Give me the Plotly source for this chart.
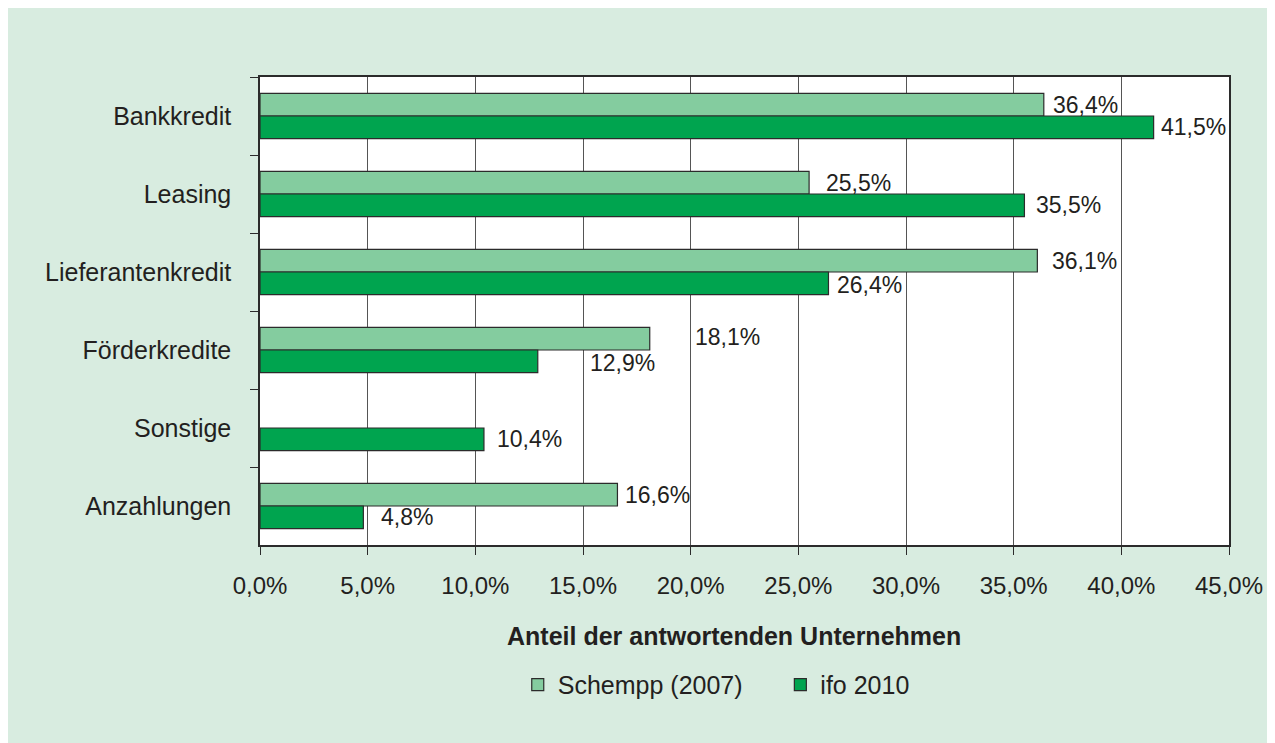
import plotly.graph_objects as go

categories = ["Bankkredit", "Leasing", "Lieferantenkredit", "Förderkredite", "Sonstige", "Anzahlungen"]
schempp_2007 = [36.4, 25.5, 36.1, 18.1, None, 16.6]
ifo_2010 = [41.5, 35.5, 26.4, 12.9, 10.4, 4.8]
series_names = ["Schempp (2007)", "ifo 2010"]
x_ticks = [0, 5, 10, 15, 20, 25, 30, 35, 40, 45]
x_tick_labels = ["0,0%", "5,0%", "10,0%", "15,0%", "20,0%", "25,0%", "30,0%", "35,0%", "40,0%", "45,0%"]

# label placement styling (pixel offsets, as in the original layout)
schempp_label_dx = [7, 15, 13, 43, 0, 6]
schempp_label_dy = [0, 0, 0, 2, 0, 0]
ifo_label_dx = [5, 10, 7, 50, 11, 16]
ifo_label_dy = [0, 0, -2, -2, 0, 0]

LIGHT = "#84cc9f"
DARK = "#00a44f"
EDGE = "#2b2b2b"
TXT = "#231f20"
BG = "#d8ece0"
FONT = "Liberation Sans, Arial, sans-serif"

fig = go.Figure()
fig.add_trace(go.Bar(y=categories, x=schempp_2007, orientation="h", name=series_names[0],
                     legend="legend",
                     marker=dict(color=LIGHT, line=dict(color=EDGE, width=1.2))))
fig.add_trace(go.Bar(y=categories, x=ifo_2010, orientation="h", name=series_names[1],
                     legend="legend2",
                     marker=dict(color=DARK, line=dict(color=EDGE, width=1.2))))

def fmt(v):
    return f"{v:.1f}".replace(".", ",") + "%"

BAR_HALF = 11
annotations = []
for i, c in enumerate(categories):
    v = schempp_2007[i]
    if v is not None:
        annotations.append(dict(x=v, y=c, xref="x", yref="y", text=fmt(v), showarrow=False,
                                xanchor="left", yanchor="middle", xshift=schempp_label_dx[i],
                                yshift=BAR_HALF + schempp_label_dy[i],
                                font=dict(size=23, color=TXT, family=FONT)))
    v = ifo_2010[i]
    if v is not None:
        annotations.append(dict(x=v, y=c, xref="x", yref="y", text=fmt(v), showarrow=False,
                                xanchor="left", yanchor="middle", xshift=ifo_label_dx[i],
                                yshift=-BAR_HALF + ifo_label_dy[i],
                                font=dict(size=23, color=TXT, family=FONT)))

annotations.append(dict(x=0.489, y=-0.194, xref="paper", yref="paper",
                        text="<b>Anteil der antwortenden Unternehmen</b>", showarrow=False,
                        xanchor="center", yanchor="middle",
                        font=dict(size=25, color=TXT, family=FONT)))

L, R, T, B = 252, 54, 69, 206
W, H = 1275, 743

legend_style = dict(orientation="h", y=-0.299, xanchor="left", yanchor="middle",
                    font=dict(size=25, color=TXT, family=FONT), bgcolor="rgba(0,0,0,0)",
                    itemwidth=30, borderwidth=0)

fig.update_layout(
    width=W, height=H,
    margin=dict(l=L, r=R, t=T, b=B),
    paper_bgcolor=BG,
    plot_bgcolor="white",
    barmode="group", bargap=0.42, bargroupgap=0,
    font=dict(family=FONT, color=TXT, size=24),
    showlegend=True,
    legend=dict(x=0.266, **legend_style),
    legend2=dict(x=0.537, **legend_style),
    annotations=annotations,
    xaxis=dict(range=[0, 45], tickvals=x_ticks, ticktext=x_tick_labels,
               showgrid=True, gridcolor="#555555", gridwidth=1.2,
               showline=True, linecolor=EDGE, linewidth=1.5, mirror=True,
               ticks="outside", ticklen=8, tickcolor=EDGE, tickwidth=1.2,
               tickfont=dict(size=24, color=TXT, family=FONT), ticklabelstandoff=10,
               zeroline=False, fixedrange=True),
    yaxis=dict(autorange="reversed", type="category",
               showgrid=False, showline=True, linecolor=EDGE, linewidth=1.5, mirror=True,
               ticks="outside", ticklen=8, tickcolor=EDGE, tickwidth=1.2, tickson="boundaries",
               tickfont=dict(size=25, color=TXT, family=FONT), ticklabelstandoff=22),
)

fig.write_html("out.html")
